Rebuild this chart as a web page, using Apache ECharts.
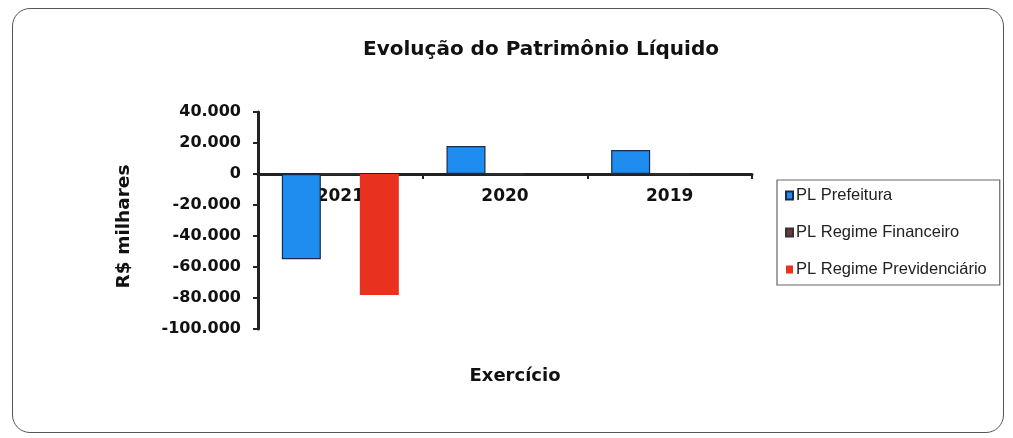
<!DOCTYPE html>
<html><head><meta charset="utf-8">
<script src="https://cdn.jsdelivr.net/npm/echarts@6/dist/echarts.min.js"></script>
<style>html,body{margin:0;padding:0;background:#fff}#c{width:1013px;height:438px}
#frame{position:absolute;left:12px;top:8px;width:992px;height:425px;border:1.6px solid #555;border-radius:18px;box-sizing:border-box;pointer-events:none}</style>
</head><body><div id="c"></div><div id="frame"></div>
<script>
const categories = ['2021', '2020', '2019'];
const plPrefeitura = [-55000, 18000, 15500];
const plFinanceiro = [0, 0, 0];
const plPrevidenciario = [-78000, 0, 0];
const seriesNames = ['PL Prefeitura', 'PL Regime Financeiro', 'PL Regime Previdenciário'];
const yMin = -100000, yMax = 40000, yStep = 20000;

const chart = echarts.init(document.getElementById('c'));
const fmt = v => {
  const s = Math.abs(v).toString().replace(/\B(?=(\d{3})+(?!\d))/g, '.');
  return (v < 0 ? '-' : '') + s;
};
const gridTop = 112, gridBottom = 109, H = 438;
const plotH = H - gridTop - gridBottom;
const zeroOffset = -plotH * (0 - yMin) / (yMax - yMin);
const BOLD = 'DejaVu Sans';
chart.setOption({
  animation: false,
  textStyle: { fontFamily: 'Liberation Sans' },
  title: {
    text: 'Evolução do Patrimônio Líquido', left: 536, top: 35, textAlign: 'center',
    textStyle: { fontSize: 20, fontWeight: 'bold', color: '#111', fontFamily: BOLD }
  },
  legend: {
    orient: 'vertical', left: 777, top: 180,
    padding: [7, 13, 7, 8], itemGap: 20, itemWidth: 7, itemHeight: 8,
    borderColor: '#666', borderWidth: 1.2,
    textStyle: { fontSize: 16.5, color: '#222', fontFamily: 'Liberation Sans', padding: [0, 0, 0, -2] },
    data: seriesNames.map(n => ({ name: n, icon: 'rect' }))
  },
  grid: { left: 258, right: 261, top: gridTop, bottom: gridBottom, outerBoundsMode: 'none', containLabel: false },
  xAxis: {
    type: 'category', data: categories,
    offset: zeroOffset,
    name: 'Exercício', nameLocation: 'middle', nameGap: 193,
    nameTextStyle: { fontSize: 18, fontWeight: 'bold', color: '#111', fontFamily: BOLD, padding: [0, 0, 0, 20] },
    axisLine: { onZero: false, lineStyle: { color: '#222', width: 3 } },
    axisTick: { show: true, length: 5, lineStyle: { color: '#222', width: 2 } },
    axisLabel: { margin: 14, fontSize: 17, fontWeight: 'bold', color: '#111', fontFamily: BOLD }
  },
  yAxis: {
    type: 'value', min: yMin, max: yMax, interval: yStep,
    name: 'R$ milhares', nameLocation: 'middle', nameGap: 124, nameRotate: 90,
    nameTextStyle: { fontSize: 18.5, fontWeight: 'bold', color: '#111', fontFamily: BOLD, padding: [0, 0, 0, -12] },
    splitLine: { show: false },
    axisLine: { show: true, lineStyle: { color: '#222', width: 3 } },
    axisTick: { show: true, length: 5, lineStyle: { color: '#222', width: 2 } },
    axisLabel: { fontSize: 16, fontWeight: 'bold', color: '#111', margin: 17, fontFamily: BOLD, formatter: fmt }
  },
  series: [
    { name: seriesNames[0], type: 'bar', data: plPrefeitura, barWidth: 39, barGap: '0%',
      itemStyle: { color: '#1f8cf0', borderColor: '#1a2a4a', borderWidth: 1.2 } },
    { name: seriesNames[1], type: 'bar', data: plFinanceiro, barWidth: 39,
      itemStyle: { color: '#6b3a40', borderColor: '#333', borderWidth: 1 } },
    { name: seriesNames[2], type: 'bar', data: plPrevidenciario, barWidth: 39,
      itemStyle: { color: '#e8321e' }, z: 3 }
  ]
});
</script></body></html>
